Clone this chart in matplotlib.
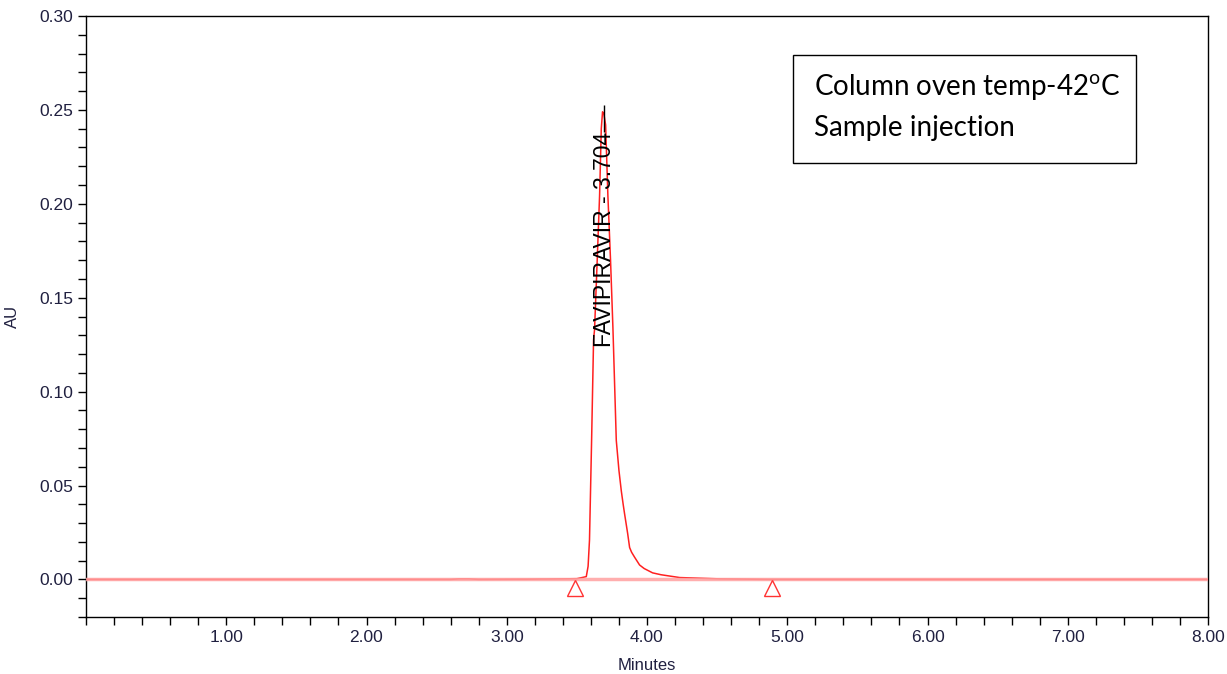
import numpy as np
import matplotlib
matplotlib.use("Agg")
import matplotlib.pyplot as plt
from matplotlib.ticker import MultipleLocator, FixedLocator

# chromatogram trace (minutes, AU)
time_min = [0.000, 2.600, 2.660, 2.730, 2.800, 3.090, 3.140, 3.250, 3.280,
            3.500, 3.567, 3.580, 3.590, 3.605, 3.619, 3.626, 3.645, 3.662,
            3.674, 3.683, 3.692, 3.705, 3.721, 3.740, 3.757, 3.781, 3.800,
            3.817, 3.830, 3.840, 3.862, 3.876, 3.890, 3.911, 3.947, 3.980,
            4.040, 4.100, 4.233, 4.518, 4.875, 8.000]
absorb = [0.0000, 0.0000, 0.0003, 0.0003, 0.0000, 0.0001, 0.0001, 0.0002,
          0.0002, 0.0004, 0.0015, 0.0070, 0.0210, 0.0740, 0.1276, 0.1330,
          0.1700, 0.2046, 0.2400, 0.2490, 0.2480, 0.2420, 0.2046, 0.1700,
          0.1340, 0.0740, 0.0580, 0.0470, 0.0400, 0.0350, 0.0245, 0.0170,
          0.0145, 0.0119, 0.0077, 0.0058, 0.0035, 0.0025, 0.0010, 0.0003,
          0.0000, 0.0000]

peak_name = "FAVIPIRAVIR"
peak_label_rt = "3.704"
peak_apex = 3.690
peak_top = 0.2525
peak_bounds = [3.49, 4.89]

x_major = [1, 2, 3, 4, 5, 6, 7, 8]
x_labels = ["1.00", "2.00", "3.00", "4.00", "5.00", "6.00", "7.00", "8.00"]
y_major = [0.00, 0.05, 0.10, 0.15, 0.20, 0.25, 0.30]
y_labels = ["0.00", "0.05", "0.10", "0.15", "0.20", "0.25", "0.30"]

note_lines = ["Column oven temp-42$^{\\mathrm{o}}$C", "Sample injection"]

plt.rcParams['font.family'] = ['Liberation Sans', 'DejaVu Sans']
plt.rcParams['mathtext.fontset'] = 'custom'
plt.rcParams['mathtext.rm'] = 'Lato'

fig = plt.figure(figsize=(12.27, 6.74), dpi=100)
ax = fig.add_axes([86 / 1227, 1 - 617 / 674, (1208 - 86) / 1227, (617 - 16) / 674])

# signal underneath, pink baseline over it so flat parts look pink
ax.plot(time_min, absorb, color="#ff2020", lw=1.1, zorder=2)
ax.axhline(0, color="#ffa0a0", lw=2.5, alpha=0.85, zorder=3)
ax.vlines(peak_apex, 0.238, peak_top, color="black", lw=1.0, zorder=4)
ax.plot(peak_bounds, [-0.0045, -0.0045], linestyle="none", marker="^",
        markersize=11, mfc="none", mec="#ff3333", mew=1.0, zorder=4)

ax.text(peak_apex + 0.01, 0.1235, f"{peak_name} - {peak_label_rt}", rotation=90,
        ha="center", va="bottom", fontsize=16.5, color="black", zorder=5)

ax.set_xlim(0, 8)
ax.set_ylim(-0.02, 0.30)
ax.xaxis.set_major_locator(FixedLocator(x_major))
ax.set_xticklabels(x_labels)
ax.xaxis.set_minor_locator(MultipleLocator(0.2))
ax.yaxis.set_major_locator(FixedLocator(y_major))
ax.set_yticklabels(y_labels)
ax.yaxis.set_minor_locator(MultipleLocator(0.01))
ax.tick_params(which="both", direction="out", length=6, width=1, color="black",
               labelsize=12.5, labelcolor="#202040", pad=3)
for s in ax.spines.values():
    s.set_linewidth(1.0)

ax.set_xlabel("Minutes", fontsize=12, color="#202040", labelpad=10)
ax.set_ylabel("AU", fontsize=12, color="#202040", labelpad=14)

# annotation box
box = plt.Rectangle((793 / 1227, 1 - 163 / 674), (1136 - 793) / 1227, (163 - 55) / 674,
                    transform=fig.transFigure, fill=False, ec="black", lw=1.0)
fig.patches.append(box)
fig.text(814 / 1227, 1 - 96 / 674, note_lines[0], family="Lato", fontsize=20, va="baseline")
fig.text(814 / 1227, 1 - 136 / 674, note_lines[1], family="Lato", fontsize=20, va="baseline")

fig.savefig("out.png", dpi=100)
